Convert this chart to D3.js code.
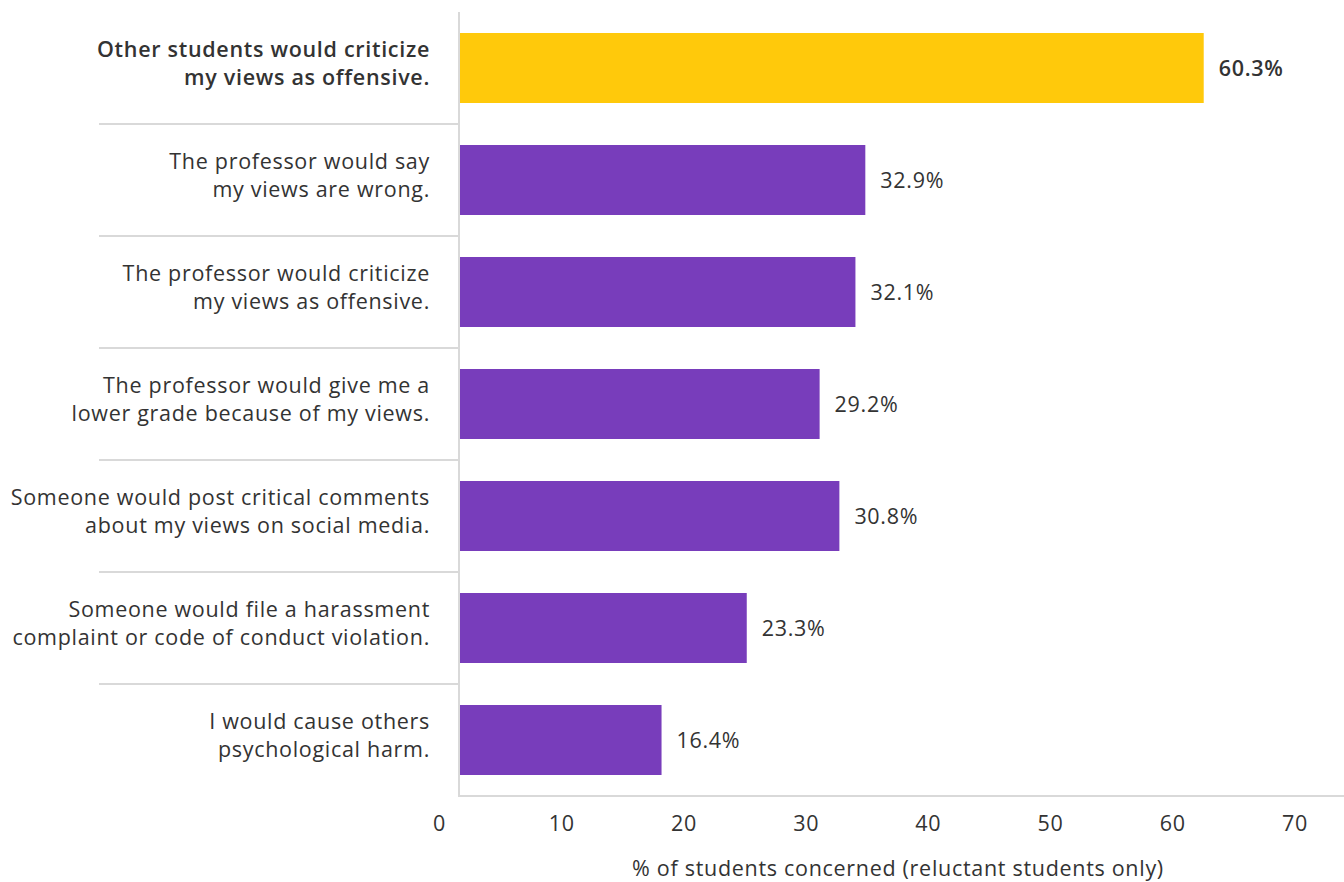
<!DOCTYPE html>
<html>
<head>
<meta charset="utf-8">
<script src="https://cdn.jsdelivr.net/npm/d3@7"></script>
<style>
  body { margin: 0; background: #fff; }
  text { font-family: "Open Sans", "Noto Sans", sans-serif; fill: #333; letter-spacing: 0.7px; }
</style>
</head>
<body>
<div id="app"></div>
<script>
const labels = [
  ["Other students would criticize", "my views as offensive."],
  ["The professor would say", "my views are wrong."],
  ["The professor would criticize", "my views as offensive."],
  ["The professor would give me a", "lower grade because of my views."],
  ["Someone would post critical comments", "about my views on social media."],
  ["Someone would file a harassment", "complaint or code of conduct violation."],
  ["I would cause others", "psychological harm."]
];
const values = [60.3, 32.9, 32.1, 29.2, 30.8, 23.3, 16.4];
const ticks = [0, 10, 20, 30, 40, 50, 60, 70];
const highlight = [true, false, false, false, false, false, false];

const chart = () => {
  const width = 1344;
  const height = 882;
  const left = 459;
  const top = 12;
  const bottom = 796;

  const svg = d3.create("svg").attr("width", width).attr("height", height);

  const x = d3.scaleLinear().domain([0, 70]).range([left, left + 70 * 12.35]);
  const xLabel = d3.scaleLinear().domain([0, 70]).range([439.5, 1295]);
  const y = d3
    .scaleBand()
    .domain(d3.range(values.length))
    .range([top, bottom])
    .paddingInner(0.375)
    .paddingOuter(0.1875);

  const step = y.step();

  // separators between categories
  svg
    .selectAll("line.sep")
    .data(d3.range(1, values.length))
    .enter()
    .append("line")
    .attr("class", "sep")
    .attr("x1", 99)
    .attr("x2", left)
    .attr("y1", (i) => top + i * step)
    .attr("y2", (i) => top + i * step)
    .attr("stroke", "#d9d9d9")
    .attr("stroke-width", 2);

  svg
    .selectAll("rect")
    .data(values)
    .enter()
    .append("rect")
    .attr("x", x(0) + 1)
    .attr("y", (d, i) => y(i))
    .attr("width", (d) => x(d) - x(0) - 1)
    .attr("height", y.bandwidth())
    .attr("fill", (d, i) => (highlight[i] ? "#FFC90B" : "#783DBB"));

  // axes lines
  svg
    .append("line")
    .attr("x1", left)
    .attr("x2", left)
    .attr("y1", top)
    .attr("y2", bottom + 1)
    .attr("stroke", "#d9d9d9")
    .attr("stroke-width", 2);

  svg
    .append("line")
    .attr("x1", left - 1)
    .attr("x2", width)
    .attr("y1", bottom)
    .attr("y2", bottom)
    .attr("stroke", "#d9d9d9")
    .attr("stroke-width", 2);

  svg
    .selectAll("text.val")
    .data(values)
    .enter()
    .append("text")
    .attr("class", "val")
    .attr("x", (d) => x(d) + 15)
    .attr("y", (d, i) => y(i) + y.bandwidth() / 2 + 8)
    .style("font-size", "21.5px")
    .style("font-weight", (d, i) => (highlight[i] ? 600 : 400))
    .text((d) => `${d.toFixed(1)}%`);

  const cat = svg
    .selectAll("text.cat")
    .data(labels)
    .enter()
    .append("text")
    .attr("class", "cat")
    .attr("text-anchor", "end")
    .style("font-size", "21.5px")
    .style("font-weight", (d, i) => (highlight[i] ? 600 : 400));

  cat
    .selectAll("tspan")
    .data((d, i) => d.map((t, k) => ({ t, k, i })))
    .enter()
    .append("tspan")
    .attr("x", 430)
    .attr("y", (d) => y(d.i) + y.bandwidth() / 2 - 11 + d.k * 28)
    .text((d) => d.t);

  svg
    .selectAll("text.tick")
    .data(ticks)
    .enter()
    .append("text")
    .attr("class", "tick")
    .attr("text-anchor", "middle")
    .attr("x", (d) => xLabel(d))
    .attr("y", 831)
    .style("font-size", "21.5px")
    .text((d) => d);

  svg
    .append("text")
    .attr("text-anchor", "middle")
    .attr("x", 898)
    .attr("y", 876)
    .style("font-size", "21.5px")
    .text("% of students concerned (reluctant students only)");

  return svg.node();
};

d3.select("#app").append(chart);
</script>
</body>
</html>
